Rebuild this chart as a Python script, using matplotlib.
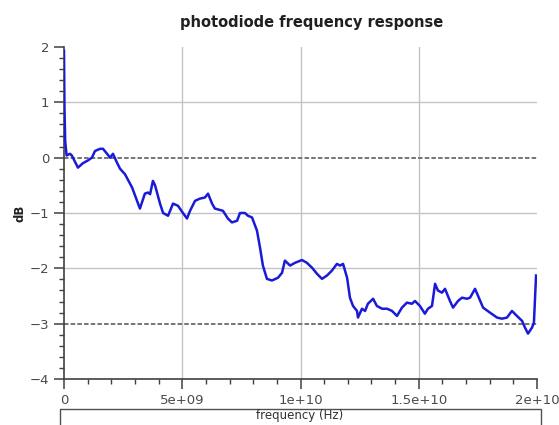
import matplotlib
matplotlib.use("Agg")
import matplotlib.pyplot as plt
from matplotlib.ticker import MultipleLocator
from matplotlib.patches import Rectangle
import numpy as np

freq_ghz = [0.0, 0.02, 0.05, 0.11, 0.25, 0.33, 0.59, 0.80, 1.01, 1.18, 1.31, 1.52, 1.65, 1.82,
            1.95, 2.07, 2.24, 2.37, 2.58, 2.88, 3.21, 3.42, 3.55, 3.64, 3.76, 3.85, 4.06, 4.19,
            4.40, 4.61, 4.82, 5.03, 5.20, 5.33, 5.54, 5.75, 5.96, 6.09, 6.26, 6.38, 6.72, 6.93,
            7.10, 7.32, 7.44, 7.65, 7.78, 7.95, 8.16, 8.29, 8.41, 8.58, 8.79, 9.05, 9.22, 9.34,
            9.56, 9.77, 10.06, 10.27, 10.49, 10.70, 10.91, 11.12, 11.33, 11.54, 11.67, 11.80,
            11.97, 12.09, 12.22, 12.39, 12.43, 12.60, 12.73, 12.85, 13.07, 13.23, 13.45, 13.66,
            13.87, 14.08, 14.29, 14.50, 14.71, 14.84, 15.05, 15.26, 15.39, 15.56, 15.69, 15.81,
            15.98, 16.11, 16.32, 16.45, 16.66, 16.83, 17.04, 17.17, 17.38, 17.51, 17.72, 18.01,
            18.31, 18.52, 18.73, 18.94, 19.15, 19.37, 19.49, 19.62, 19.79, 19.87, 19.96]
response_db = [1.93, 0.9, 0.3, 0.04, 0.07, 0.04, -0.18, -0.10, -0.05, 0.00, 0.12, 0.16, 0.16, 0.07,
               0.00, 0.07, -0.09, -0.20, -0.30, -0.54, -0.92, -0.65, -0.63, -0.66, -0.42, -0.50,
               -0.83, -1.00, -1.05, -0.83, -0.87, -1.00, -1.10, -0.96, -0.78, -0.74, -0.72, -0.65,
               -0.83, -0.92, -0.96, -1.10, -1.17, -1.14, -1.00, -1.00, -1.05, -1.08, -1.32, -1.63,
               -1.95, -2.19, -2.22, -2.17, -2.08, -1.86, -1.95, -1.90, -1.85, -1.90, -1.99, -2.10,
               -2.19, -2.13, -2.04, -1.92, -1.95, -1.92, -2.17, -2.53, -2.68, -2.77, -2.89, -2.73,
               -2.77, -2.64, -2.55, -2.68, -2.73, -2.73, -2.77, -2.86, -2.71, -2.62, -2.64, -2.59,
               -2.68, -2.82, -2.73, -2.68, -2.28, -2.40, -2.44, -2.37, -2.59, -2.71, -2.59, -2.53,
               -2.55, -2.53, -2.37, -2.50, -2.71, -2.80, -2.89, -2.91, -2.89, -2.77, -2.86, -2.95,
               -3.07, -3.18, -3.07, -2.98, -2.13]

x_ticks = [0, 5e9, 1e10, 1.5e10, 2e10]
x_tick_labels = ["0", "5e+09", "1e+10", "1.5e+10", "2e+10"]
y_ticks = [2, 1, 0, -1, -2, -3, -4]
dashed_levels = [0, -3]

W, H = 559, 425
fig = plt.figure(figsize=(W / 100, H / 100), dpi=100)
ax = fig.add_axes([64 / W, 1 - 379 / H, (537 - 64) / W, (379 - 47) / H])

freq = np.array(freq_ghz) * 1e9
ax.set_xlim(0, 2e10)
ax.set_ylim(-4, 2)

grid_c = "#c4c4c4"
for xv in x_ticks[1:-1]:
    ax.axvline(xv, color=grid_c, lw=1.0, zorder=1)
for yv in y_ticks:
    if yv in dashed_levels or yv in (2, -4):
        continue
    ax.axhline(yv, color=grid_c, lw=1.0, zorder=1)
for yv in dashed_levels:
    ax.axhline(yv, color="#6a6a6a", lw=1.3, ls=(0, (2.5, 1.2)), zorder=2)

ax.plot(freq, response_db, color="#1a1ad8", lw=1.8, zorder=3, solid_joinstyle="round")

for s in ("top", "right"):
    ax.spines[s].set_visible(False)
for s in ("left", "bottom"):
    ax.spines[s].set_color("#404040")
    ax.spines[s].set_linewidth(1.2)

ax.set_xticks(x_ticks)
ax.set_xticklabels(x_tick_labels)
ax.set_yticks(y_ticks)
ax.xaxis.set_minor_locator(MultipleLocator(1e9))
ax.yaxis.set_minor_locator(MultipleLocator(0.2))
ax.tick_params(axis="both", which="major", length=7.5, width=1.1, color="#404040",
               labelsize=9.5, labelcolor="#4a4a4a", pad=3)
ax.tick_params(axis="both", which="minor", length=3.8, width=1.0, color="#404040")

fig.text(312 / W, 1 - 22 / H, "photodiode frequency response", ha="center", va="center",
         fontsize=10.5, fontweight="bold", color="#202020")
fig.text(20 / W, 1 - 213 / H, "dB", ha="center", va="center", rotation=90,
         fontsize=8.5, fontweight="bold", color="#202020")

rect = Rectangle((60 / W, -0.05), (541 - 60) / W, 0.05 + (H - 409) / H,
                 transform=fig.transFigure, fill=False, edgecolor="#505050", lw=1.0)
fig.add_artist(rect)
fig.text(300 / W, 1 - 416 / H, "frequency (Hz)", ha="center", va="center",
         fontsize=8.5, color="#303030")

fig.savefig("out.png", dpi=100)
